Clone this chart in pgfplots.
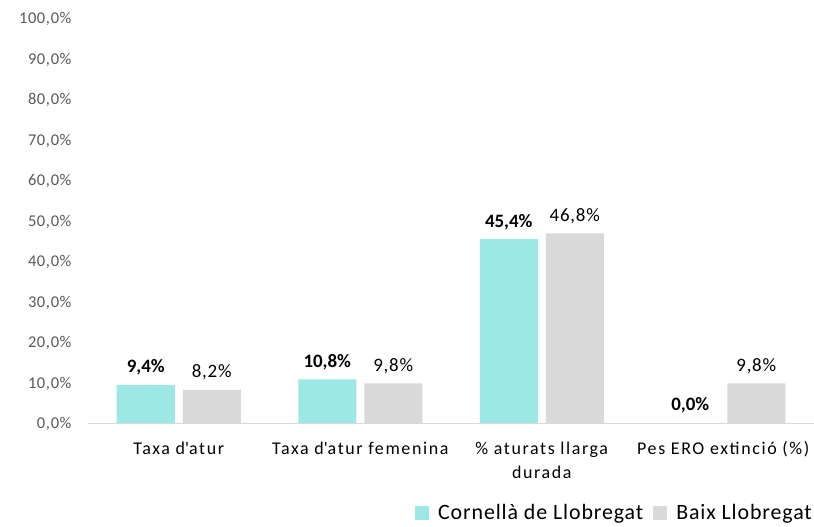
\documentclass[border=0pt]{standalone}
\usepackage{fontspec}
\setmainfont{Carlito}
\usepackage{pgfplots}
\pgfplotsset{compat=1.18}
\definecolor{cyanbar}{HTML}{9BE8E5}
\definecolor{greybar}{HTML}{D9D9D9}
\definecolor{ticktext}{HTML}{595959}
\definecolor{axisline}{HTML}{D9D9D9}
\begin{document}
\begin{tikzpicture}
\path[use as bounding box] (0,0) rectangle (814bp,527bp);
\begin{axis}[
  at={(88bp,104bp)}, anchor=south west,
  scale only axis, width=726bp, height=405bp,
  ymin=0, ymax=100, ytick={0,10,...,100},
  xmin=-0.5, xmax=3.5, xtick={0,1,2,3},
  xticklabels={Taxa d\textquotesingle atur, Taxa d\textquotesingle atur femenina, {\% aturats llarga\\durada}, Pes ERO extinció (\%)},
  /pgf/number format/assume math mode=true,
  yticklabel={\pgfmathprintnumber[fixed,fixed zerofill,precision=1,use comma]{\tick}\%},
  yticklabel style={font=\fontsize{16.5}{19}\selectfont\addfontfeature{LetterSpace=4}, text=ticktext, anchor=east, xshift=-13bp, yshift=-1bp},
  xticklabel style={font=\fontsize{18}{24}\selectfont\addfontfeature{LetterSpace=9}, text=black, align=center, anchor=north, yshift=-11bp},
  axis lines*=left,
  y axis line style={draw=none},
  x axis line style={draw=axisline, line width=1bp},
  tick style={draw=none},
  ybar, bar width=58bp,
  nodes near coords={\pgfmathprintnumber[fixed,fixed zerofill,precision=1,use comma]{\pgfplotspointmeta}\%},
  every node near coord/.append style={font=\fontsize{19}{22}\selectfont\addfontfeature{LetterSpace=4}, text=black, yshift=6bp},
  legend style={at={(1.0,-0.222)}, anchor=east, draw=none, fill=none,
    font=\fontsize{22}{25}\selectfont\addfontfeature{LetterSpace=4}, inner sep=0pt,
    /tikz/every odd column/.append style={column sep=7bp},
    /tikz/every even column/.append style={column sep=8bp}},
  legend columns=2,
  legend image code/.code={\fill[#1] (0bp,-7bp) rectangle (14bp,7bp);},
]
\addplot[fill=cyanbar, draw=none, bar shift=-33bp,
  every node near coord/.append style={font=\fontsize{19}{22}\selectfont\bfseries}]
  coordinates {(0,9.4) (1,10.8) (2,45.4) (3,0.0)};
\addplot[fill=greybar, draw=none, bar shift=33bp]
  coordinates {(0,8.2) (1,9.8) (2,46.8) (3,9.8)};
\legend{Cornellà de Llobregat, Baix Llobregat}
\end{axis}
\end{tikzpicture}
\end{document}
